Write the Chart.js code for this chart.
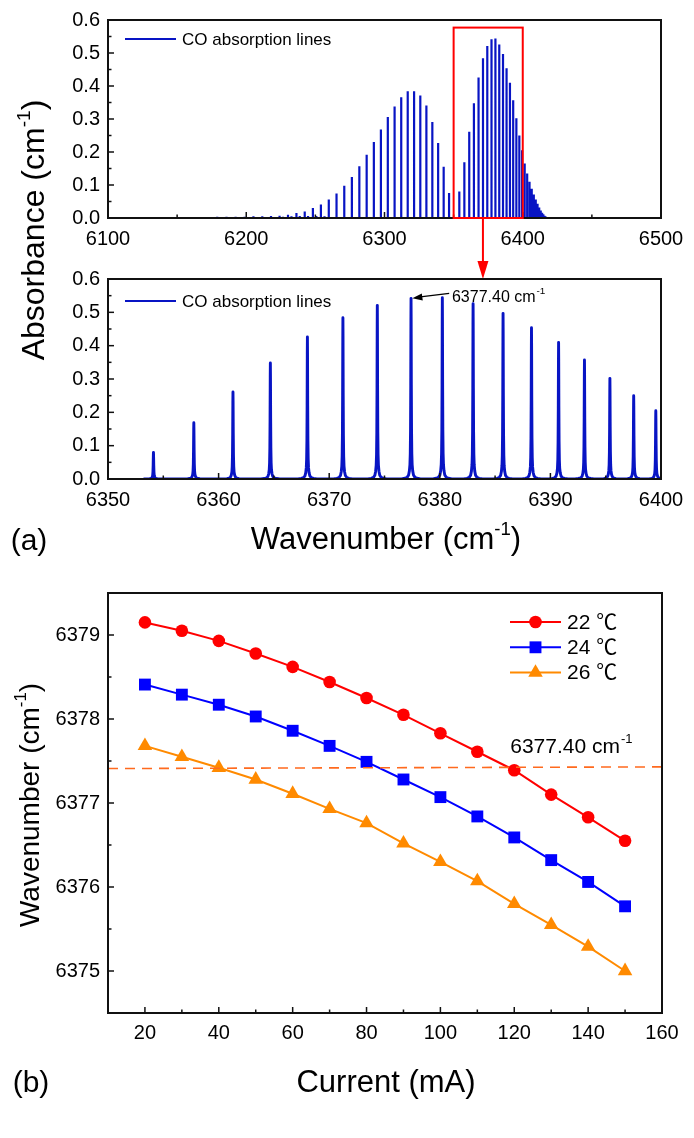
<!DOCTYPE html>
<html><head><meta charset="utf-8">
<script src="https://cdn.jsdelivr.net/npm/chart.js@4.4.0/dist/chart.umd.min.js"></script>
<style>
html,body{margin:0;padding:0;background:#fff;}
body{width:694px;height:1138px;position:relative;overflow:hidden;font-family:'Liberation Sans',Arial,sans-serif;color:#000;}
canvas{position:absolute;left:0;}
.t{position:absolute;white-space:nowrap;transform:translate(-50%,-50%);line-height:1;}
.r{transform:translate(-50%,-50%) rotate(-90deg);}
sup{font-size:0.6em;position:relative;top:-0.75em;line-height:0;vertical-align:baseline;}
</style></head><body>
<canvas id="c1" width="694" height="285" style="top:0"></canvas>
<canvas id="c2" width="694" height="310" style="top:250px"></canvas>
<canvas id="c3" width="694" height="578" style="top:560px"></canvas>
<div class="t r" style="left:33px;top:230px;font-size:32px">Absorbance (cm<sup>-1</sup>)</div>
<div class="t" style="left:29px;top:540px;font-size:30px">(a)</div>
<div class="t" style="left:386px;top:538px;font-size:31px">Wavenumber (cm<sup>-1</sup>)</div>
<div class="t r" style="left:30px;top:805px;font-size:28px">Wavenumber (cm<sup>-1</sup>)</div>
<div class="t" style="left:31px;top:1082px;font-size:30px">(b)</div>
<div class="t" style="left:386px;top:1081px;font-size:31px">Current (mA)</div>
<script>
const FONT = "'Liberation Sans', Arial, 'Noto Sans CJK SC', sans-serif";

// ---------- Panel (a): CO absorption lines ----------
const pBranchCenters = [6144.7, 6151.7, 6158.6, 6165.5, 6172.3, 6179.0, 6185.7, 6192.3, 6198.8, 6205.2, 6211.6, 6217.9, 6224.1, 6230.2, 6236.3, 6242.3, 6248.2, 6254.0, 6259.7, 6265.3, 6270.9, 6276.4, 6281.8, 6287.1, 6292.3, 6297.4, 6302.4, 6307.3, 6312.1, 6316.8, 6321.4, 6325.9, 6330.3, 6334.6, 6338.8, 6342.8, 6346.7];
const pBranchHeights = [0.002, 0.003, 0.003, 0.003, 0.003, 0.004, 0.004, 0.004, 0.004, 0.005, 0.005, 0.006, 0.007, 0.010, 0.015, 0.020, 0.030, 0.041, 0.056, 0.074, 0.098, 0.124, 0.157, 0.192, 0.230, 0.268, 0.306, 0.338, 0.366, 0.384, 0.384, 0.371, 0.341, 0.291, 0.227, 0.155, 0.076];
const weakCenters = [6208.5, 6214.6, 6220.6, 6226.6, 6232.7, 6238.7, 6244.7, 6250.7, 6256.6];
const weakHeights = [0.002, 0.003, 0.003, 0.004, 0.005, 0.006, 0.006, 0.006, 0.005];
const rBranchCenters = [6354.11, 6357.76, 6361.30, 6364.68, 6368.03, 6371.24, 6374.35, 6377.40, 6380.23, 6383.01, 6385.72, 6388.29, 6390.74, 6393.08, 6395.38, 6397.53, 6399.53];
const rBranchHeights = [0.080, 0.169, 0.261, 0.348, 0.426, 0.484, 0.521, 0.542, 0.544, 0.526, 0.497, 0.454, 0.410, 0.357, 0.302, 0.250, 0.205];
const rTailCenters = [6401.4, 6403.2, 6404.9, 6406.5, 6408.0, 6409.4, 6410.7, 6411.9, 6413.0, 6414.0, 6414.9, 6415.7, 6416.4, 6417.0, 6417.5];
const rTailHeights = [0.165, 0.135, 0.110, 0.089, 0.071, 0.056, 0.043, 0.032, 0.023, 0.016, 0.011, 0.007, 0.005, 0.003, 0.002];
// line shape of one peak as seen in the zoomed panel (offset in cm-1, fraction of peak height)
const profileOffsets = [-0.85, -0.55, -0.35, -0.22, -0.15, -0.1, -0.07, -0.045, -0.026, -0.01, 0, 0.01, 0.026, 0.045, 0.07, 0.1, 0.15, 0.22, 0.35, 0.55, 0.85];
const profileShape = [0, 0.004, 0.009, 0.022, 0.045, 0.08, 0.14, 0.27, 0.52, 0.88, 1, 0.88, 0.52, 0.27, 0.14, 0.08, 0.045, 0.022, 0.009, 0.004, 0];
const lineLabel = 'CO absorption lines';
const markedLine = [6377.40, 0.542];
const markedText = '6377.40 cm';
const zoomRange = [6350, 6400];
const zoomBoxTop = 0.577;

// ---------- Panel (b): tuning ----------
const currents = [20, 30, 40, 50, 60, 70, 80, 90, 100, 110, 120, 130, 140, 150];
const wn22 = [6379.15, 6379.05, 6378.93, 6378.78, 6378.62, 6378.44, 6378.25, 6378.05, 6377.83, 6377.61, 6377.39, 6377.10, 6376.83, 6376.55];
const wn24 = [6378.41, 6378.29, 6378.17, 6378.03, 6377.86, 6377.68, 6377.49, 6377.28, 6377.07, 6376.84, 6376.59, 6376.32, 6376.06, 6375.77];
const wn26 = [6377.68, 6377.55, 6377.42, 6377.28, 6377.11, 6376.93, 6376.76, 6376.52, 6376.30, 6376.07, 6375.80, 6375.55, 6375.29, 6375.00];
const tempLabels = ['22 \u2103', '24 \u2103', '26 \u2103'];
const refLineX = [10, 160];
const refLineY = [6377.41, 6377.43];

const BLUE = '#0814c4';
const C22 = '#ff0000', C24 = '#0000ff', C26 = '#ff8a00', CREF = '#ff6a1e';
const SOLID = [4000, 0]; // solid stroke; also keeps Chart.js off its pixel-merging fast path

// ---------- helpers ----------
function allLines() {
  const L = [];
  pBranchCenters.forEach((c, i) => L.push([c, pBranchHeights[i]]));
  weakCenters.forEach((c, i) => L.push([c, weakHeights[i]]));
  rBranchCenters.forEach((c, i) => L.push([c, rBranchHeights[i]]));
  rTailCenters.forEach((c, i) => L.push([c, rTailHeights[i]]));
  return L.sort((a, b) => a[0] - b[0]);
}
function stickPoints(lines) {
  const pts = [];
  lines.forEach(([c, h]) => { pts.push({x: c, y: 0}, {x: c, y: h}, {x: c, y: 0}); });
  return pts;
}
function profilePoints(lines) {
  const pts = [];
  lines.forEach(([c, h]) => {
    profileOffsets.forEach((o, k) => pts.push({x: +(c + o).toFixed(4), y: h * profileShape[k]}));
  });
  return pts;
}
function isMult(v, s) { const q = v / s; return Math.abs(q - Math.round(q)) < 1e-6; }
function scaleOpts(min, max, step, lstep, fmt, fitSize, horizontal, pad) {
  return {
    type: 'linear', min, max,
    grid: {display: false, drawTicks: false},
    border: {display: false},
    afterBuildTicks(scale) {
      const t = [];
      for (let k = 0; ; k++) { const v = +(min + k * step).toFixed(6); if (v > max + 1e-9) break; t.push({value: v}); }
      scale.ticks = t;
    },
    afterFit(scale) { if (horizontal) scale.height = fitSize; else scale.width = fitSize; },
    ticks: {
      autoSkip: false, maxRotation: 0, minRotation: 0, padding: pad, color: '#000',
      font: {family: FONT, size: 20},
      callback: (v) => isMult(v, lstep) ? fmt(v) : ''
    }
  };
}
const framePlugin = {
  id: 'frame',
  afterDatasetsDraw(chart) {
    const {ctx, chartArea: a} = chart;
    ctx.save();
    ctx.strokeStyle = '#111';
    ctx.lineWidth = 1.5;
    const xs = chart.scales.x, ys = chart.scales.y;
    xs.ticks.forEach(t => {
      const px = xs.getPixelForValue(t.value);
      const len = t.label !== '' ? 6 : 3.5;
      ctx.beginPath(); ctx.moveTo(px, a.bottom); ctx.lineTo(px, a.bottom - len); ctx.stroke();
    });
    ys.ticks.forEach(t => {
      const py = ys.getPixelForValue(t.value);
      const len = t.label !== '' ? 6 : 3.5;
      ctx.beginPath(); ctx.moveTo(a.left, py); ctx.lineTo(a.left + len, py); ctx.stroke();
    });
    ctx.lineWidth = 2;
    ctx.strokeRect(a.left, a.top, a.right - a.left, a.bottom - a.top);
    ctx.restore();
  }
};
function supText(ctx, x, y, base, sup, size, color) {
  ctx.fillStyle = color || '#000';
  ctx.textBaseline = 'alphabetic'; ctx.textAlign = 'left';
  ctx.font = size + 'px ' + FONT;
  ctx.fillText(base, x, y);
  const w = ctx.measureText(base).width;
  ctx.font = (size * 0.62) + 'px ' + FONT;
  ctx.fillText(sup, x + w + 1, y - size * 0.45);
}
function arrowHead(ctx, x1, y1, x2, y2, len, half) {
  const ang = Math.atan2(y2 - y1, x2 - x1);
  ctx.beginPath();
  ctx.moveTo(x2, y2);
  ctx.lineTo(x2 - len * Math.cos(ang) + half * Math.sin(ang), y2 - len * Math.sin(ang) - half * Math.cos(ang));
  ctx.lineTo(x2 - len * Math.cos(ang) - half * Math.sin(ang), y2 - len * Math.sin(ang) + half * Math.cos(ang));
  ctx.closePath(); ctx.fill();
}
function drawLineLegend(ctx, y) {
  ctx.save();
  ctx.strokeStyle = BLUE; ctx.lineWidth = 2;
  ctx.beginPath(); ctx.moveTo(125, y); ctx.lineTo(176, y); ctx.stroke();
  ctx.fillStyle = '#000'; ctx.font = '17px ' + FONT; ctx.textBaseline = 'middle'; ctx.textAlign = 'left';
  ctx.fillText(lineLabel, 182, y + 1);
  ctx.restore();
}

Chart.defaults.font.family = FONT;
Chart.defaults.color = '#000';
const lines = allLines();

// ---------- chart 1: overview ----------
new Chart(document.getElementById('c1'), {
  type: 'scatter',
  data: {datasets: [{data: stickPoints(lines), showLine: true, borderColor: BLUE, borderWidth: 2.2, borderDash: SOLID, borderJoinStyle: 'miter', pointRadius: 0, tension: 0, clip: 0}]},
  options: {
    responsive: false, animation: false, events: [],
    layout: {padding: {top: 19, right: 33, left: 0, bottom: 0}},
    plugins: {legend: {display: false}, tooltip: {enabled: false}},
    scales: {
      x: scaleOpts(6100, 6500, 50, 100, v => String(v), 67, true, 9),
      y: scaleOpts(0, 0.6, 0.05, 0.1, v => v.toFixed(1), 108, false, 8)
    }
  },
  plugins: [framePlugin, {
    id: 'deco1',
    afterDraw(chart) {
      const {ctx} = chart; const xs = chart.scales.x, ys = chart.scales.y;
      drawLineLegend(ctx, 39);
      ctx.save();
      ctx.strokeStyle = '#ff0000'; ctx.fillStyle = '#ff0000'; ctx.lineWidth = 2;
      const x1 = xs.getPixelForValue(zoomRange[0]), x2 = xs.getPixelForValue(zoomRange[1]);
      const yT = ys.getPixelForValue(zoomBoxTop), yB = ys.getPixelForValue(0);
      ctx.strokeRect(x1, yT, x2 - x1, yB - yT);
      const ax = xs.getPixelForValue(6371.2);
      ctx.beginPath(); ctx.moveTo(ax, yB); ctx.lineTo(ax, 264); ctx.stroke();
      arrowHead(ctx, ax, yB, ax, 279, 18, 5.5);
      ctx.restore();
    }
  }]
});

// ---------- chart 2: zoom ----------
new Chart(document.getElementById('c2'), {
  type: 'scatter',
  data: {datasets: [{data: profilePoints(lines.filter(l => l[0] > 6348 && l[0] < 6403)), showLine: true, borderColor: BLUE, borderWidth: 2.9, borderDash: SOLID, borderJoinStyle: 'round', borderCapStyle: 'round', pointRadius: 0, tension: 0, clip: 0}]},
  options: {
    responsive: false, animation: false, events: [],
    layout: {padding: {top: 29, right: 33, left: 0, bottom: 0}},
    plugins: {legend: {display: false}, tooltip: {enabled: false}},
    scales: {
      x: scaleOpts(6350, 6400, 5, 10, v => String(v), 81, true, 9),
      y: scaleOpts(0, 0.6, 0.05, 0.1, v => v.toFixed(1), 108, false, 8)
    }
  },
  plugins: [framePlugin, {
    id: 'deco2',
    afterDraw(chart) {
      const {ctx} = chart; const xs = chart.scales.x, ys = chart.scales.y;
      drawLineLegend(ctx, 51);
      ctx.save();
      ctx.strokeStyle = '#000'; ctx.fillStyle = '#000'; ctx.lineWidth = 1.3;
      const tx = xs.getPixelForValue(6380.85), ty = ys.getPixelForValue(0.557);
      const hx = xs.getPixelForValue(markedLine[0] + 0.12), hy = ys.getPixelForValue(markedLine[1]);
      ctx.beginPath(); ctx.moveTo(tx, ty); ctx.lineTo(hx + 8, hy - 1.4); ctx.stroke();
      arrowHead(ctx, tx, ty, hx, hy, 10, 3.5);
      supText(ctx, xs.getPixelForValue(6381.1), ys.getPixelForValue(0.532), markedText, '-1', 16);
      ctx.restore();
    }
  }]
});

// ---------- chart 3: wavenumber vs current ----------
const mk = (arr) => currents.map((c, i) => ({x: c, y: arr[i]}));
const series = [
  {label: tempLabels[0], data: mk(wn22), color: C22, style: 'circle', r: 6.3},
  {label: tempLabels[1], data: mk(wn24), color: C24, style: 'rect', r: 8.4},
  {label: tempLabels[2], data: mk(wn26), color: C26, style: 'triangle', r: 8.4}
];
new Chart(document.getElementById('c3'), {
  type: 'scatter',
  data: {datasets: [
    {data: refLineX.map((x, i) => ({x, y: refLineY[i]})), showLine: true, borderColor: CREF, borderWidth: 1.6, borderDash: [10, 7], pointRadius: 0},
    ...series.map(s => ({label: s.label, data: s.data, showLine: true, borderColor: s.color, backgroundColor: s.color, borderWidth: 2, pointStyle: s.style, pointRadius: s.r, pointBorderWidth: 0, tension: 0}))
  ]},
  options: {
    responsive: false, animation: false, events: [],
    layout: {padding: {top: 33, right: 32, left: 0, bottom: 0}},
    plugins: {legend: {display: false}, tooltip: {enabled: false}},
    scales: {
      x: scaleOpts(10, 160, 10, 20, v => String(v), 125, true, 8),
      y: scaleOpts(6374.5, 6379.5, 0.5, 1, v => String(v), 108, false, 8)
    }
  },
  plugins: [framePlugin, {
    id: 'deco3',
    afterDraw(chart) {
      const {ctx} = chart; const xs = chart.scales.x, ys = chart.scales.y;
      ctx.save();
      supText(ctx, xs.getPixelForValue(118.9), ys.getPixelForValue(6377.60), '6377.40 cm', '-1', 21);
      series.forEach((s, i) => {
        const y = 62 + 25.3 * i;
        ctx.strokeStyle = s.color; ctx.fillStyle = s.color; ctx.lineWidth = 2;
        ctx.beginPath(); ctx.moveTo(510, y); ctx.lineTo(561, y); ctx.stroke();
        const cx = 535.5;
        ctx.beginPath();
        if (s.style === 'circle') { ctx.arc(cx, y, s.r, 0, Math.PI * 2); }
        else if (s.style === 'rect') { const h = s.r * Math.SQRT1_2; ctx.rect(cx - h, y - h, 2 * h, 2 * h); }
        else { for (let k = 0; k < 3; k++) { const a = k * 2 * Math.PI / 3; const px = cx + Math.sin(a) * s.r, py = y - Math.cos(a) * s.r; if (k === 0) ctx.moveTo(px, py); else ctx.lineTo(px, py); } ctx.closePath(); }
        ctx.fill();
        ctx.fillStyle = '#000'; ctx.font = '21px ' + FONT; ctx.textBaseline = 'middle'; ctx.textAlign = 'left';
        ctx.fillText(s.label, 567, y + 1);
      });
      ctx.restore();
    }
  }]
});
</script>
</body></html>
